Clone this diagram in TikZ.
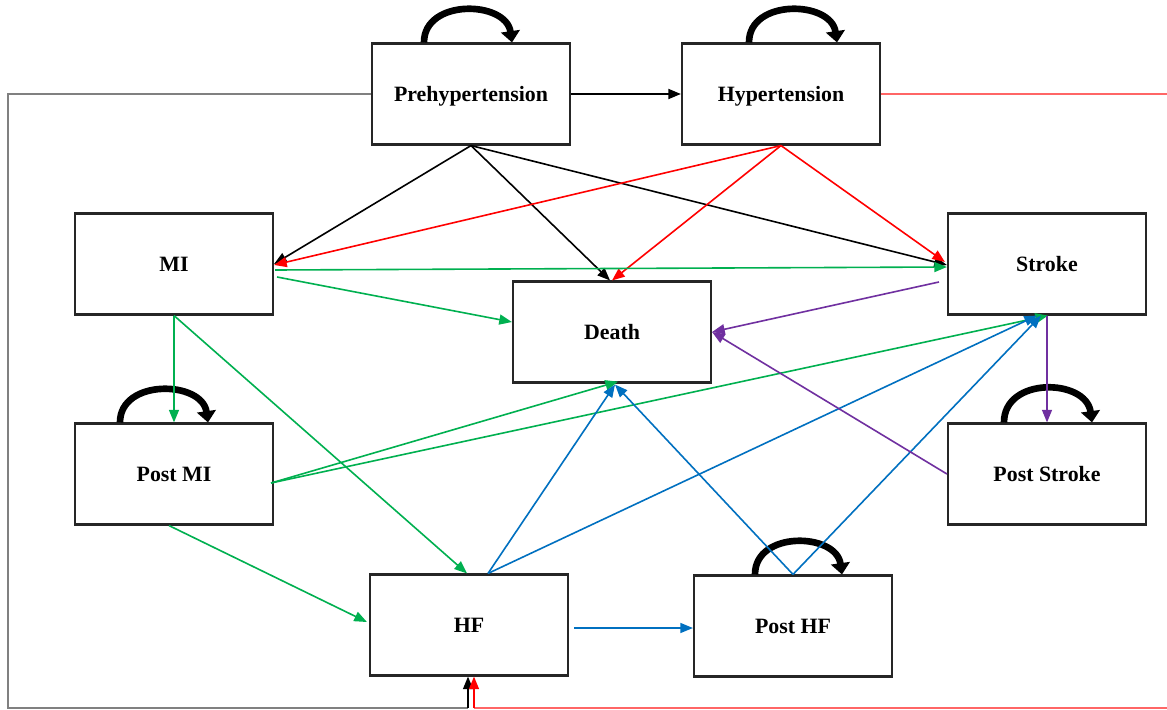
\documentclass[tikz,border=0pt]{standalone}
\usepackage{fontspec}
\setmainfont{Liberation Serif}
\usetikzlibrary{arrows.meta,calc}
\definecolor{cgreen}{HTML}{00B050}
\definecolor{cred}{HTML}{FF0000}
\definecolor{cblue}{HTML}{0070C0}
\definecolor{cpurple}{HTML}{7030A0}
\definecolor{cgray}{HTML}{808080}
\definecolor{boxline}{HTML}{262626}
\begin{document}
\begin{tikzpicture}[x=0.75pt,y=-0.75pt,
 state/.style={draw=boxline, line width=1.6pt, minimum width=148.5pt, minimum height=75.75pt, inner sep=0pt, text height=11pt, text depth=0pt, font=\fontsize{16.4}{19}\selectfont\bfseries},
 link/.style={line width=1.2pt, -{Triangle[length=9.5pt,width=7.5pt]}},
 selfloop/.style={line width=5pt, -{Triangle[length=8.5pt,width=14pt]}},
]
\useasboundingbox (0,0) rectangle (1167,710);
\fill[white] (0,0) rectangle (1167,710);

\node[state] (Pre) at (471,94) {Prehypertension};
\node[state] (Hyp) at (781,94) {Hypertension};
\node[state] (MI) at (174,264) {MI};
\node[state] (Stroke) at (1047,264) {Stroke};
\node[state] (Death) at (612,332) {Death};
\node[state] (PostMI) at (174,474) {Post MI};
\node[state] (PostStroke) at (1047,474) {Post Stroke};
\node[state] (HF) at (469,625) {HF};
\node[state] (PostHF) at (793,626) {Post HF};

% self loops
\draw[selfloop] ($(Pre.north)+(-47,0)$) .. controls +(0,-44) and +(-6,-42) .. ($(Pre.north)+(41,0)$);
\draw[selfloop] ($(Hyp.north)+(-32,0)$) .. controls +(0,-44) and +(-6,-42) .. ($(Hyp.north)+(56,0)$);
\draw[selfloop] ($(PostMI.north)+(-54,0)$) .. controls +(0,-44) and +(-6,-42) .. ($(PostMI.north)+(34,0)$);
\draw[selfloop] ($(PostStroke.north)+(-43,0)$) .. controls +(0,-46) and +(-6,-44) .. ($(PostStroke.north)+(45,0)$);
\draw[selfloop] ($(PostHF.north)+(-38,0)$) .. controls +(0,-44) and +(-6,-42) .. ($(PostHF.north)+(49,0)$);

% outer connectors
\coordinate (gTL) at (8,94);
\coordinate (gBL) at (8,708);
\coordinate (gB) at (468,708);
\draw[cgray,line width=1pt] (Pre.west) -- (gTL) -- (gBL) -- (gB);
\draw[link,black] (gB) -- ($(HF.south)+(-1,0)$);
\coordinate (rTR) at (1175,94);
\coordinate (rBR) at (1175,708);
\coordinate (rB) at (474,708);
\draw[cred!60,line width=0.8pt] (Hyp.east) -- (rTR) -- (rBR) -- (rB);
\draw[link,cred] (rB) -- ($(HF.south)+(5,0)$);

% black
\draw[link,line width=1.5pt] (Pre.east) -- (Hyp.west);
\draw[link] (Pre.south) -- (MI.east);
\draw[link] (Pre.south) -- ($(Death.north)+(-2,0)$);
\draw[link] (Pre.south) -- ($(Stroke.west)+(0,1)$);
% red
\draw[link,cred] (Hyp.south) -- ($(MI.east)+(0,1)$);
\draw[link,cred] (Hyp.south) -- (Death.north);
\draw[link,cred] (Hyp.south) -- ($(Stroke.west)+(-2,-2)$);
% green
\draw[link,cgreen] ($(MI.east)+(1,6)$) -- ($(Stroke.west)+(0,3)$);
\draw[link,cgreen] ($(MI.east)+(3,13)$) -- ($(Death.west)+(0,-10)$);
\draw[link,cgreen] (MI.south) -- (PostMI.north);
\draw[link,cgreen] (MI.south) -- ($(HF.north)+(-2,0)$);
\draw[link,cgreen] ($(PostMI.east)+(-3,9)$) -- ($(Death.south)+(6,-2)$);
\draw[link,cgreen] ($(PostMI.east)+(-3,9)$) -- ($(Stroke.south)+(1,0)$);
\draw[link,cgreen] ($(PostMI.south)+(-5,0)$) -- ($(HF.west)+(-2,-3)$);
% blue
\draw[link,cblue] ($(HF.east)+(5,3)$) -- ($(PostHF.west)+(0,2)$);
\draw[link,cblue] ($(HF.north)+(19,0)$) -- ($(Death.south)+(3,1)$);
\draw[link,cblue] ($(HF.north)+(19,0)$) -- ($(Stroke.south)+(-10,0)$);
\draw[link,cblue] (PostHF.north) -- ($(Death.south)+(3,1)$);
\draw[link,cblue] (PostHF.north) -- ($(Stroke.south)+(-6,0)$);
% purple
\draw[link,cpurple] ($(Stroke.west)+(-8,18)$) -- (Death.east);
\draw[link,cpurple] (PostStroke.west) -- (Death.east);
\draw[link,cpurple] (Stroke.south) -- (PostStroke.north);
\end{tikzpicture}
\end{document}
